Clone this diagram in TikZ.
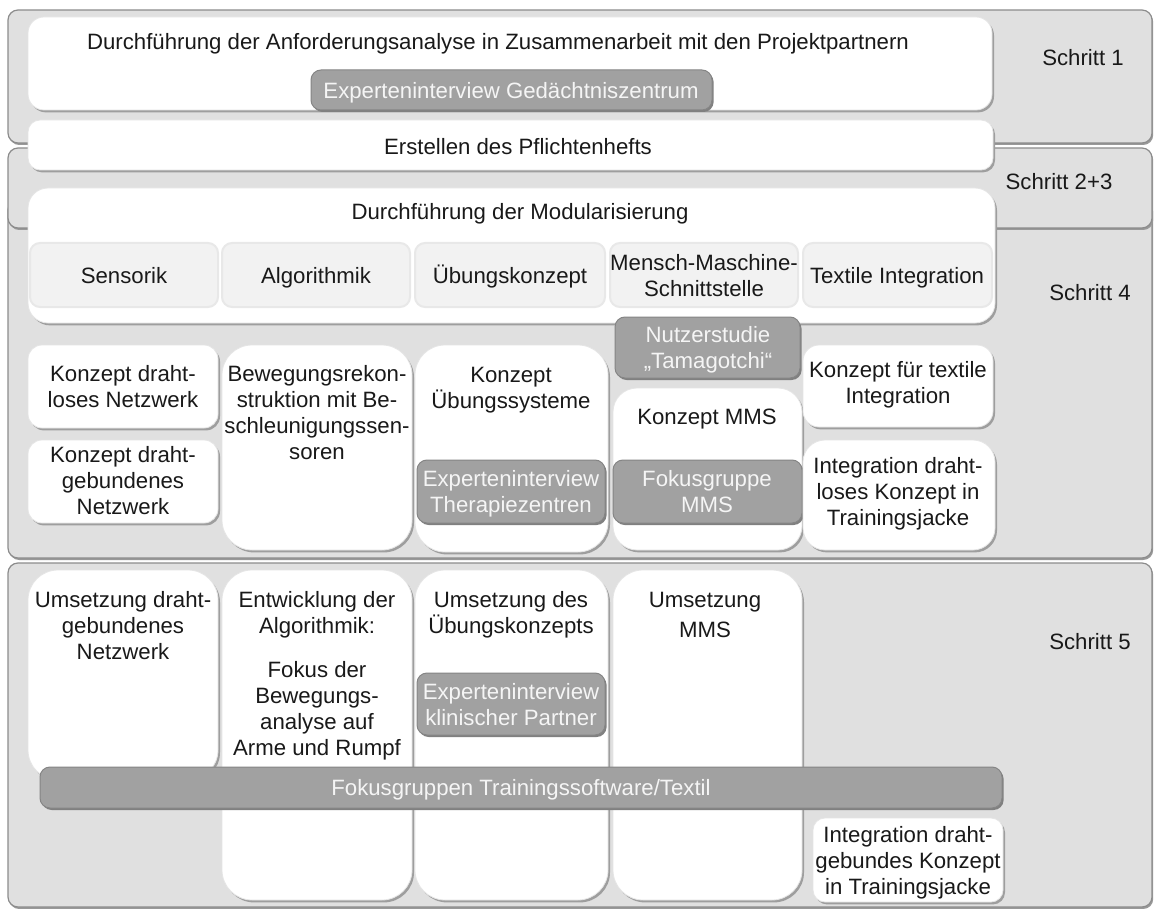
\documentclass[tikz,border=0pt]{standalone}
\usepackage{fontspec}
\setmainfont{Liberation Sans}
\usetikzlibrary{shadows}

\tikzset{
  schritt/.style={draw=black!45, fill=black!12, line width=0.6pt, rounded corners=5pt,
    drop shadow={shadow xshift=0.6pt, shadow yshift=-1pt, fill=black!40, opacity=1}},
  feld/.style={draw=black!10, fill=white, line width=0.4pt, rounded corners=#1,
    drop shadow={shadow xshift=1pt, shadow yshift=-1.2pt, fill=black!38, opacity=1}},
  feld/.default=7pt,
  modul/.style={draw=black!9, fill=black!5, line width=1pt, rounded corners=5pt},
  interview/.style={draw=black!48, fill=black!37, line width=0.5pt, rounded corners=5pt,
    drop shadow={shadow xshift=0.8pt, shadow yshift=-1pt, fill=black!50, opacity=1}},
  txt/.style={font=\fontsize{11.1}{13}\selectfont, align=center, inner sep=0pt, text=black!90,
    yshift=-1.3pt, execute at begin node=\strut, execute at end node=\strut},
  wtxt/.style={txt, text=black!4},
}

\begin{document}
\begin{tikzpicture}[x=0.5pt, y=-0.5pt]
  \useasboundingbox (0,0) rectangle (1156,909);

  % phases in the background
  \path[schritt] (8,200) rectangle (1152,558);
  \path[schritt] (8,148) rectangle (1152,228);
  \path[schritt] (8,10) rectangle (1152,143);
  \path[schritt] (8,563) rectangle (1152,907);

  \node[txt] (s1) at (1083,58) {Schritt 1};
  \node[txt] (s23) at (1059,182) {Schritt 2+3};
  \node[txt] (s4) at (1090,293) {Schritt 4};
  \node[txt] (s5) at (1090,642) {Schritt 5};

  % step 1 to 3
  \path[feld=8pt] (28,17) rectangle (992,110);
  \node[txt] (anf) at (498,42) {Durchführung der Anforderungsanalyse in Zusammenarbeit mit den Projektpartnern};
  \path[interview] (311,70) rectangle (712,110);
  \node[wtxt] (gedz) at (511,91) {Experteninterview Gedächtniszentrum};

  \path[feld=6pt] (28,120) rectangle (993,170);
  \node[txt] (pfl) at (518,147) {Erstellen des Pflichtenhefts};

  \path[feld=10pt] (28,188) rectangle (995,323);
  \node[txt] (modu) at (520,212) {Durchführung der Modularisierung};

  % modules
  \path[modul] (30,243) rectangle (218,307);
  \path[modul] (222,243) rectangle (410,307);
  \path[modul] (415,243) rectangle (605,307);
  \path[modul] (610,243) rectangle (798,307);
  \path[modul] (803,243) rectangle (992,307);
  \node[txt] (sens) at (124,276) {Sensorik};
  \node[txt] (algo) at (316,276) {Algorithmik};
  \node[txt] (uebk) at (510,276) {Übungskonzept};
  \node[txt] (mms) at (704,277) {Mensch-Maschine-\\Schnittstelle};
  \node[txt] (textil) at (897,276) {Textile Integration};

  % step 4
  \path[feld=7pt] (28,345) rectangle (218,428);
  \node[txt] (kdl) at (123,388) {Konzept draht-\\loses Netzwerk};
  \path[feld=7pt] (28,440) rectangle (218,523);
  \node[txt] (kdg) at (123,482) {Konzept draht-\\gebundenes\\Netzwerk};

  \path[feld=15pt] (222,345) rectangle (412,550);
  \node[txt] (bew) at (317,414) {Bewegungsrekon-\\struktion mit Be-\\schleunigungssen-\\soren};

  \path[feld=15pt] (415,345) rectangle (608,552);
  \node[txt] (kues) at (511,389) {Konzept\\Übungssysteme};
  \path[interview] (417,460) rectangle (605,523);
  \node[wtxt] (ther) at (511,493) {Experteninterview\\Therapiezentren};

  \path[feld=12pt] (613,388) rectangle (802,550);
  \node[txt] (kmms) at (707,417) {Konzept MMS};
  \path[interview] (615,317) rectangle (800,378);
  \node[wtxt] (tama) at (708,349) {Nutzerstudie\\„Tamagotchi“};
  \path[interview] (613,460) rectangle (802,523);
  \node[wtxt] (fmms) at (707,493) {Fokusgruppe\\MMS};

  \path[feld=8pt] (803,345) rectangle (993,427);
  \node[txt] (ktex) at (898,384) {Konzept für textile\\Integration};
  \path[feld=11pt] (803,440) rectangle (995,550);
  \node[txt] (idl) at (898,493) {Integration draht-\\loses Konzept in\\Trainingsjacke};

  % step 5
  \path[feld=15pt] (28,570) rectangle (218,780);
  \node[txt] (udg) at (123,627) {Umsetzung draht-\\gebundenes\\Netzwerk};
  \path[feld=15pt] (222,570) rectangle (412,900);
  \node[txt] (entw) at (317,675) {Entwicklung der\\Algorithmik:\\[9pt]Fokus der\\Bewegungs-\\analyse auf\\Arme und Rumpf};
  \path[feld=15pt] (415,570) rectangle (608,900);
  \node[txt] (uuek) at (511,614) {Umsetzung des\\Übungskonzepts};
  \path[interview] (417,673) rectangle (605,735);
  \node[wtxt] (klin) at (511,706) {Experteninterview\\klinischer Partner};
  \path[feld=15pt] (613,570) rectangle (802,900);
  \node[txt] (umms) at (705,616) {Umsetzung\\[2pt]MMS};

  \path[interview] (40,767) rectangle (1002,808);
  \node[wtxt] (ftt) at (521,788) {Fokusgruppen Trainingssoftware/Textil};

  \path[feld=6pt] (813,818) rectangle (1003,902);
  \node[txt] (igb) at (908,862) {Integration draht-\\gebundes Konzept\\in Trainingsjacke};
\end{tikzpicture}
\end{document}
